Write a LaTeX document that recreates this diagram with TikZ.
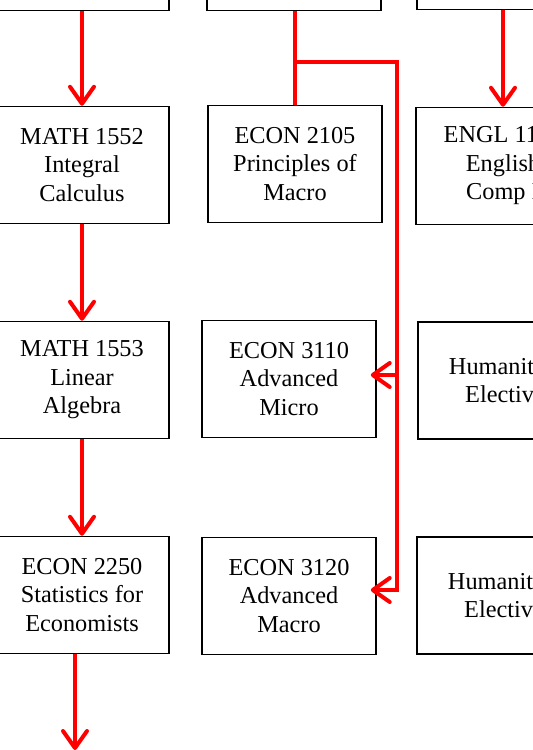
\documentclass[tikz,border=0pt]{standalone}
\usepackage{fontspec}
\setmainfont{Liberation Serif}
\usetikzlibrary{arrows.meta,positioning}

\tikzset{
  course/.style={draw,line width=1.5pt,minimum width=174pt,minimum height=117pt,
    align=center,inner sep=0pt,font=\fontsize{24.3}{28.5}\selectfont},
  flow/.style={draw=red,line width=4pt,-{Straight Barb[length=17pt,width=24pt,round]}},
  link/.style={draw=red,line width=4pt}
}

\begin{document}
\begin{tikzpicture}[x=1pt,y=-1pt]
  \useasboundingbox (0,0) rectangle (533,750);
  \clip (0,0) rectangle (533,750);
  % top row, cut off by the frame
  \node[course,anchor=south] (tl) at (82,11) {};
  \node[course,anchor=south] (tm) at (294,11) {};
  \node[course,anchor=south] (tr) at (504,10) {};
  \node[course] (math1552) at (82,165) {MATH 1552\\Integral\\Calculus};
  \node[course] (econ2105) at (295,164) {ECON 2105\\Principles of\\Macro};
  \node[course] (engl1101) at (503,166) {ENGL 1101\\English\\Comp I};
  \node[course] (math1553) at (82,380) {MATH 1553\\Linear\\Algebra};
  \node[course] (econ3110) at (289,379) {ECON 3110\\Advanced\\Micro};
  \node[course] (hum1) at (505,380.5) {Humanities\\Elective};
  \node[course] (econ2250) at (82,595) {ECON 2250\\Statistics for\\Economists};
  \node[course] (econ3120) at (289,596) {ECON 3120\\Advanced\\Macro};
  \node[course] (hum2) at (504,595.5) {Humanities\\Elective};
  \coordinate (fork) at (295,62);
  \coordinate (rail) at (397,62);
  \coordinate (down) at (75,750);
  \draw[flow] (tl.south -| math1552.north) -- (math1552.north);
  \draw[flow] (math1552) -- (math1553);
  \draw[flow] (math1553) -- (econ2250);
  \draw[flow] (econ2250.south -| down) -- (down);
  \draw[flow] (tr.south -| engl1101.north) -- (engl1101.north);
  \draw[link] (tm.south -| econ2105.north) -- (econ2105.north);
  \draw[flow] (fork) -- (rail) |- ([xshift=-6pt]econ3120.east |- 0,590);
  \draw[flow] (rail |- 0,375) -- ([xshift=-6pt]econ3110.east |- 0,375);
\end{tikzpicture}
\end{document}
